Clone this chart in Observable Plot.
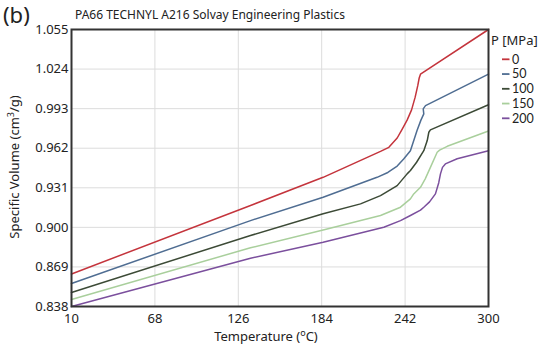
<!DOCTYPE html>
<html>
<head>
<meta charset="utf-8">
<script src="https://cdn.jsdelivr.net/npm/d3@7"></script>
<script src="https://cdn.jsdelivr.net/npm/@observablehq/plot@0.6"></script>
<style>
  html, body { margin: 0; padding: 0; background: #fff; }
  #chart { width: 550px; height: 351px; }
</style>
</head>
<body>
<div id="chart"></div>
<script>
const pressures = [0, 50, 100, 150, 200];
const colors = ["#c4343c", "#4f6d92", "#3c4a36", "#a9cf9c", "#7b4f9d"];
const xTicks = [10, 68, 126, 184, 242, 300];
const yTicks = [0.838, 0.869, 0.900, 0.931, 0.962, 0.993, 1.024, 1.055];

const temp0 = [10, 134.5, 185, 224.9, 230.7, 236.5, 240, 243.4, 246.5, 249, 250.8, 251.8, 252.7, 300];
const vol0  = [0.8635, 0.9171, 0.9392, 0.9595, 0.9627, 0.970, 0.977, 0.984, 0.992, 1.002, 1.011, 1.017, 1.020, 1.055];

const temp50 = [10, 134.5, 185, 222.5, 230, 236.5, 241, 245.7, 250.3, 253, 255, 254.6, 256.2, 300];
const vol50  = [0.856, 0.9053, 0.9236, 0.9392, 0.943, 0.948, 0.9535, 0.960, 0.9758, 0.984, 0.9889, 0.9928, 0.9954, 1.020];

const temp100 = [10, 134.5, 185, 211, 224.9, 236.5, 243.4, 245.7, 250, 255, 257.4, 258.5, 259.6, 300];
const vol100  = [0.849, 0.8936, 0.9106, 0.9184, 0.9249, 0.9327, 0.9419, 0.9445, 0.951, 0.9601, 0.968, 0.9745, 0.9764, 0.996];

const temp150 = [10, 134.5, 185, 224.9, 238.8, 245.7, 248, 252.7, 256, 259.6, 264.3, 266, 271.3, 300];
const vol150  = [0.8435, 0.884, 0.898, 0.9093, 0.9158, 0.9223, 0.9262, 0.9314, 0.938, 0.947, 0.9588, 0.9605, 0.9635, 0.9755];

const temp200 = [10, 134.5, 185, 227.2, 238.8, 245.7, 252.7, 255, 259, 263.1, 265.4, 266.6, 268, 270, 278.2, 300];
const vol200  = [0.838, 0.8758, 0.8883, 0.9001, 0.9053, 0.9093, 0.9135, 0.9158, 0.920, 0.9262, 0.935, 0.9419, 0.947, 0.9497, 0.9537, 0.960];

const temps = [temp0, temp50, temp100, temp150, temp200];
const vols = [vol0, vol50, vol100, vol150, vol200];

const rows = [];
pressures.forEach((p, i) => {
  temps[i].forEach((t, j) => rows.push({P: p, T: t, V: vols[i][j]}));
});

const W = 550, H = 351;
const mL = 71, mR = 62, mT = 29, mB = 45;
const font = "'Noto Sans', 'Open Sans', sans-serif";

const chart = Plot.plot({
  width: W,
  height: H,
  marginLeft: mL,
  marginRight: mR,
  marginTop: mT,
  marginBottom: mB,
  style: {fontFamily: font, fontSize: "13px", color: "#222", background: "#fff"},
  x: {domain: [10, 300]},
  y: {domain: [0.838, 1.055]},
  color: {domain: pressures, range: colors},
  marks: [
    Plot.gridX(xTicks, {stroke: "#dcdcdc", strokeOpacity: 1, strokeWidth: 1}),
    Plot.gridY(yTicks, {stroke: "#dcdcdc", strokeOpacity: 1, strokeWidth: 1}),
    Plot.line(rows, {x: "T", y: "V", z: "P", stroke: "P", strokeWidth: 1.5}),
    Plot.frame({stroke: "#333", strokeWidth: 2}),
    Plot.axisX({ticks: xTicks, tickSize: 0, tickPadding: 7, label: null, fontSize: 13}),
    Plot.axisY({ticks: yTicks, tickSize: 0, tickPadding: 3, tickFormat: d3.format(".3f"), label: null, fontSize: 13})
  ]
});

document.getElementById("chart").appendChild(chart);

const svg = d3.select(chart);
const addText = (x, y, size, txt, fam = font) =>
  svg.append("text").attr("x", x).attr("y", y).attr("font-size", size).attr("font-family", fam)
    .attr("fill", "#222").attr("text-anchor", "start").text(txt);

addText(3, 23, 22, "(b)");
addText(75, 19, 12, "PA66 TECHNYL A216 Solvay Engineering Plastics");

const yl = svg.append("text").attr("transform", "translate(19,167) rotate(-90)").attr("text-anchor", "middle")
  .attr("font-size", 13).attr("font-family", font).attr("fill", "#222");
yl.append("tspan").text("Specific Volume (cm");
yl.append("tspan").attr("font-size", 9).attr("dy", -5).text("3");
yl.append("tspan").attr("dy", 5).text("/g)");

const xl = svg.append("text").attr("x", 266).attr("y", 341).attr("text-anchor", "middle")
  .attr("font-size", 13).attr("font-family", font).attr("fill", "#222");
xl.append("tspan").text("Temperature (");
xl.append("tspan").attr("font-size", 9).attr("dy", -5).text("o");
xl.append("tspan").attr("dy", 5).text("C)");

addText(491, 45, 13, "P [MPa]");
pressures.forEach((p, i) => {
  const y = 59.3 + i * 14.75;
  svg.append("line").attr("x1", 502).attr("x2", 509.5).attr("y1", y).attr("y2", y)
    .attr("stroke", colors[i]).attr("stroke-width", 1.8);
  addText(512, y + 4.3, 12.5, String(p), "Lato, 'Noto Sans', sans-serif");
});
</script>
</body>
</html>
